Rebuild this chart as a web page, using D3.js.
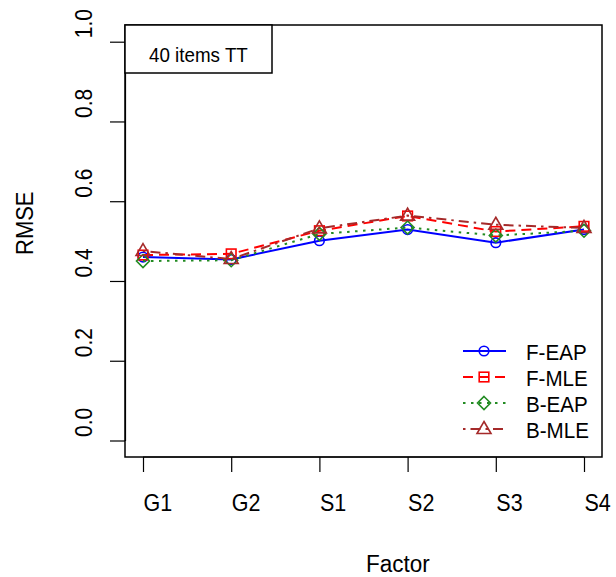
<!DOCTYPE html>
<html>
<head>
<meta charset="utf-8">
<script src="https://cdn.jsdelivr.net/npm/d3@7"></script>
<style>
  body { margin: 0; background: #fff; }
  text { font-family: "Liberation Sans", Arial, sans-serif; fill: #000; }
</style>
</head>
<body>
<svg id="chart" width="616" height="577"></svg>
<script>
// data
var factors = ['G1', 'G2', 'S1', 'S2', 'S3', 'S4'];
var fEap = [0.460, 0.454, 0.501, 0.529, 0.496, 0.529];
var fMle = [0.465, 0.468, 0.526, 0.563, 0.524, 0.537];
var bEap = [0.450, 0.452, 0.518, 0.534, 0.514, 0.526];
var bMle = [0.475, 0.455, 0.532, 0.564, 0.541, 0.533];
var yTicks = [0.0, 0.2, 0.4, 0.6, 0.8, 1.0];
var seriesNames = ['F-EAP', 'F-MLE', 'B-EAP', 'B-MLE'];

var series = [
  { name: seriesNames[0], values: fEap, color: '#0000ff', dash: null, shape: 'circle' },
  { name: seriesNames[1], values: fMle, color: '#ff0000', dash: '10,6', shape: 'square' },
  { name: seriesNames[2], values: bEap, color: '#228b22', dash: '2.5,5.5', shape: 'diamond' },
  { name: seriesNames[3], values: bMle, color: '#a52a2a', dash: '2.5,5,10,5', shape: 'triangle' }
];

var svg = d3.select('#chart');
var box = { left: 125, right: 602, top: 25, bottom: 457 };
var stretch = 'scale(1,1.1)';

var x = d3.scalePoint().domain(factors).range([143, 584]);
var y = d3.scaleLinear().domain([0, 1]).range([440.5, 41.7]);

// plot box
svg.append('rect')
  .attr('x', box.left).attr('y', box.top)
  .attr('width', box.right - box.left).attr('height', box.bottom - box.top)
  .attr('fill', 'none').attr('stroke', '#000').attr('stroke-width', 1.5);

// y axis
var yAxis = svg.append('g').attr('transform', 'translate(' + box.left + ',0)')
  .call(d3.axisLeft(y).tickValues(yTicks).tickFormat(d3.format('.1f')).tickSize(15).tickSizeOuter(0));
yAxis.select('.domain').attr('stroke-width', 1.2);
yAxis.selectAll('.tick line').attr('stroke-width', 1.2);
yAxis.selectAll('.tick text')
  .attr('font-size', 21).attr('font-family', '"Liberation Sans", Arial, sans-serif')
  .attr('x', 0).attr('y', 0).attr('dy', 0).attr('text-anchor', 'start')
  .attr('transform', 'translate(-33,-4) rotate(-90) ' + stretch);

// x axis
var xAxis = svg.append('g').attr('transform', 'translate(0,' + box.bottom + ')')
  .call(d3.axisBottom(x).tickSize(15).tickSizeOuter(0));
xAxis.select('.domain').attr('d', 'M' + x('G1') + ',0H' + x('S4')).attr('stroke-width', 1.2);
xAxis.selectAll('.tick line').attr('stroke-width', 1.2);
xAxis.selectAll('.tick text')
  .attr('font-size', 21.5).attr('font-family', '"Liberation Sans", Arial, sans-serif')
  .attr('x', 0).attr('y', 0).attr('dy', 0).attr('text-anchor', 'start')
  .attr('transform', 'translate(0,54) ' + stretch);

// axis titles
svg.append('text').attr('transform', 'translate(366,571.5) ' + stretch)
  .attr('font-size', 22.5).text('Factor');
svg.append('text').attr('transform', 'translate(33,255) rotate(-90) ' + stretch)
  .attr('font-size', 22).text('RMSE');

// title box
svg.append('rect').attr('x', box.left).attr('y', box.top).attr('width', 147).attr('height', 48)
  .attr('fill', '#fff').attr('stroke', '#000').attr('stroke-width', 1.5);
svg.append('text').attr('transform', 'translate(149,61.5) ' + stretch)
  .attr('font-size', 18.8).text('40 items TT');

function symbol(g, shape, color) {
  if (shape === 'circle') {
    g.append('circle').attr('r', 4.8);
  } else if (shape === 'square') {
    g.append('rect').attr('x', -4.8).attr('y', -4.8).attr('width', 9.6).attr('height', 9.6);
  } else if (shape === 'diamond') {
    g.append('path').attr('d', 'M0,-6.5L6.5,0L0,6.5L-6.5,0Z');
  } else {
    g.append('path').attr('d', 'M0,-7.5L7,4.5L-7,4.5Z');
  }
  g.selectAll('*').attr('fill', 'none').attr('stroke', color).attr('stroke-width', 1.6);
}

var line = d3.line().x(function (d, i) { return x(factors[i]); }).y(function (d) { return y(d); });

series.forEach(function (s) {
  svg.append('path').datum(s.values)
    .attr('d', line)
    .attr('fill', 'none').attr('stroke', s.color).attr('stroke-width', 2)
    .attr('stroke-dasharray', s.dash);
  s.values.forEach(function (v, i) {
    var g = svg.append('g').attr('transform', 'translate(' + x(factors[i]) + ',' + y(v) + ')');
    symbol(g, s.shape, s.color);
  });
});

// legend
var legend = svg.append('g');
series.forEach(function (s, i) {
  var ly = 351 + i * 26;
  legend.append('line').attr('x1', 463).attr('x2', 506).attr('y1', ly).attr('y2', ly)
    .attr('stroke', s.color).attr('stroke-width', 2).attr('stroke-dasharray', s.dash);
  var g = legend.append('g').attr('transform', 'translate(484,' + ly + ')');
  symbol(g, s.shape, s.color);
  legend.append('text').attr('transform', 'translate(526,' + (ly + 8.5) + ') ' + stretch)
    .attr('font-size', 20.6).text(s.name);
});
</script>
</body>
</html>
